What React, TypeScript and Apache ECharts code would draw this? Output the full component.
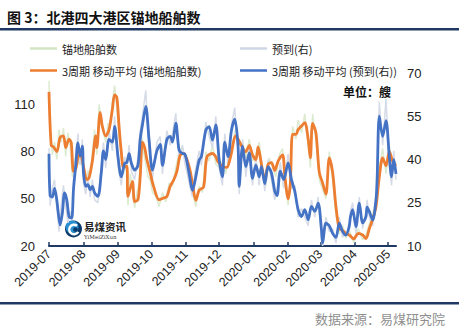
import React, { useEffect, useRef } from "react";
import * as echarts from "echarts";

// 3周期 移动平均 (锚地船舶数) — left axis
const anchorMA: [string, number][] = [
  ["2019-07-01", 118], ["2019-07-03", 84], ["2019-07-05", 83], ["2019-07-08", 80], ["2019-07-11", 89],
  ["2019-07-14", 90], ["2019-07-16", 82.5], ["2019-07-19", 88], ["2019-07-21", 85.7], ["2019-07-23", 67.5],
  ["2019-07-25", 69], ["2019-07-27", 76], ["2019-07-29", 79.3], ["2019-08-01", 70.7], ["2019-08-04", 62.2],
  ["2019-08-06", 63.3], ["2019-08-09", 74], ["2019-08-12", 90], ["2019-08-13", 82.5], ["2019-08-16", 105],
  ["2019-08-18", 96], ["2019-08-21", 90], ["2019-08-24", 94], ["2019-08-27", 107], ["2019-08-29", 116],
  ["2019-08-31", 114.5], ["2019-09-02", 96], ["2019-09-04", 80], ["2019-09-06", 70], ["2019-09-09", 70.7],
  ["2019-09-10", 51.5], ["2019-09-14", 61], ["2019-09-16", 48.3], ["2019-09-19", 49.4], ["2019-09-21", 64],
  ["2019-09-23", 86], ["2019-09-25", 82.5], ["2019-09-27", 75], ["2019-09-30", 66.5], ["2019-10-03", 58],
  ["2019-10-08", 49.4], ["2019-10-12", 50.5], ["2019-10-15", 51.5], ["2019-10-18", 58], ["2019-10-21", 61.8],
  ["2019-10-24", 67.5], ["2019-10-27", 77.8], ["2019-10-30", 78.8], ["2019-11-04", 70.5], ["2019-11-07", 59.7],
  ["2019-11-10", 49], ["2019-11-13", 55.4], ["2019-11-17", 57.5], ["2019-11-20", 76.7], ["2019-11-25", 78.8],
  ["2019-11-28", 76.7], ["2019-11-30", 73.5], ["2019-12-05", 70.3], ["2019-12-08", 70], ["2019-12-11", 76],
  ["2019-12-16", 90], ["2019-12-18", 88], ["2019-12-22", 82.5], ["2019-12-25", 80], ["2019-12-28", 84],
  ["2019-12-31", 78], ["2020-01-03", 75], ["2020-01-05", 83], ["2020-01-08", 72], ["2020-01-11", 62],
  ["2020-01-14", 72], ["2020-01-17", 73], ["2020-01-20", 68], ["2020-01-23", 74], ["2020-01-27", 78],
  ["2020-01-29", 65], ["2020-02-01", 50], ["2020-02-03", 60], ["2020-02-05", 91], ["2020-02-08", 91],
  ["2020-02-10", 94], ["2020-02-13", 96.3], ["2020-02-16", 98.5], ["2020-02-19", 88], ["2020-02-21", 76],
  ["2020-02-23", 98], ["2020-02-26", 92], ["2020-02-29", 67], ["2020-03-03", 60], ["2020-03-06", 53],
  ["2020-03-09", 76], ["2020-03-12", 67], ["2020-03-15", 45], ["2020-03-18", 31], ["2020-03-21", 30],
  ["2020-03-24", 28], ["2020-03-27", 27], ["2020-03-31", 24.5], ["2020-04-04", 28], ["2020-04-08", 27],
  ["2020-04-11", 24.7], ["2020-04-14", 31], ["2020-04-17", 37], ["2020-04-20", 45], ["2020-04-23", 64],
  ["2020-04-26", 76], ["2020-04-29", 71], ["2020-05-02", 80], ["2020-05-05", 74], ["2020-05-08", 71],
];

// 3周期 移动平均 (预到(右)) — right axis
const arrivalMA: [string, number][] = [
  ["2019-07-01", 42], ["2019-07-02", 27.5], ["2019-07-04", 27], ["2019-07-06", 30], ["2019-07-08", 26],
  ["2019-07-09", 22.6], ["2019-07-11", 17.3], ["2019-07-13", 21.4], ["2019-07-15", 28.4], ["2019-07-17", 26],
  ["2019-07-19", 20.2], ["2019-07-21", 19.7], ["2019-07-22", 21], ["2019-07-23", 29.5], ["2019-07-25", 37.7],
  ["2019-07-27", 45.8], ["2019-07-29", 41.2], ["2019-07-31", 44.6], ["2019-08-01", 35.4], ["2019-08-03", 30.7],
  ["2019-08-05", 31.3], ["2019-08-07", 29.5], ["2019-08-09", 30.7], ["2019-08-11", 28.4], ["2019-08-14", 27.2],
  ["2019-08-17", 35.4], ["2019-08-19", 43], ["2019-08-21", 40], ["2019-08-24", 47], ["2019-08-27", 46],
  ["2019-08-29", 51.5], ["2019-09-01", 41], ["2019-09-04", 34], ["2019-09-07", 38.6], ["2019-09-09", 39],
  ["2019-09-11", 42], ["2019-09-13", 38.8], ["2019-09-16", 36.3], ["2019-09-19", 38], ["2019-09-21", 47],
  ["2019-09-23", 52], ["2019-09-26", 58.4], ["2019-09-29", 46.7], ["2019-10-02", 36.3], ["2019-10-06", 43],
  ["2019-10-09", 45.2], ["2019-10-11", 38], ["2019-10-15", 47], ["2019-10-18", 48], ["2019-10-20", 46],
  ["2019-10-23", 52.6], ["2019-10-26", 43.2], ["2019-10-29", 42.1], ["2019-10-31", 42], ["2019-11-04", 35.1],
  ["2019-11-07", 29.3], ["2019-11-09", 32], ["2019-11-13", 39.8], ["2019-11-15", 41], ["2019-11-19", 50.2],
  ["2019-11-22", 51.4], ["2019-11-25", 46.7], ["2019-11-28", 52], ["2019-12-01", 40], ["2019-12-04", 34],
  ["2019-12-06", 46], ["2019-12-09", 41], ["2019-12-12", 50], ["2019-12-15", 54], ["2019-12-18", 44.6],
  ["2019-12-19", 30.7], ["2019-12-22", 44.6], ["2019-12-25", 37.5], ["2019-12-28", 42.3], ["2019-12-31", 33.5],
  ["2020-01-03", 38], ["2020-01-06", 34], ["2020-01-08", 37.5], ["2020-01-11", 31.6], ["2020-01-14", 37.5],
  ["2020-01-17", 35.4], ["2020-01-20", 29], ["2020-01-22", 27.5], ["2020-01-25", 36], ["2020-01-28", 33],
  ["2020-02-01", 38.8], ["2020-02-04", 33], ["2020-02-07", 29], ["2020-02-10", 22.6], ["2020-02-13", 20.2],
  ["2020-02-16", 22.6], ["2020-02-19", 19.1], ["2020-02-22", 23.7], ["2020-02-25", 22], ["2020-02-28", 24.9],
  ["2020-03-02", 15.6], ["2020-03-03", 11], ["2020-03-06", 17.9], ["2020-03-09", 17], ["2020-03-12", 14.4],
  ["2020-03-15", 13], ["2020-03-18", 17.9], ["2020-03-21", 15], ["2020-03-24", 13.8], ["2020-03-27", 17],
  ["2020-03-28", 20], ["2020-03-30", 22.6], ["2020-04-02", 16.7], ["2020-04-05", 24.9], ["2020-04-08", 18],
  ["2020-04-11", 20.2], ["2020-04-12", 23.5], ["2020-04-14", 22], ["2020-04-17", 19], ["2020-04-20", 26],
  ["2020-04-21", 32.8], ["2020-04-23", 55], ["2020-04-26", 48], ["2020-04-29", 53.5], ["2020-05-02", 41],
  ["2020-05-04", 34], ["2020-05-06", 40], ["2020-05-08", 35],
];

// 锚地船舶数 (daily, left axis)
const anchorRaw: [string, number][] = [
  ["2019-07-01", 125], ["2019-07-02", 95], ["2019-07-04", 78], ["2019-07-06", 86], ["2019-07-08", 75],
  ["2019-07-10", 94], ["2019-07-12", 86], ["2019-07-14", 95], ["2019-07-16", 77], ["2019-07-18", 92],
  ["2019-07-20", 83], ["2019-07-22", 64], ["2019-07-24", 74], ["2019-07-26", 80], ["2019-07-28", 72],
  ["2019-07-30", 76], ["2019-08-01", 66], ["2019-08-03", 58], ["2019-08-05", 68], ["2019-08-07", 64],
  ["2019-08-09", 80], ["2019-08-11", 94], ["2019-08-13", 78], ["2019-08-15", 110], ["2019-08-17", 100],
  ["2019-08-19", 92], ["2019-08-21", 86], ["2019-08-23", 98], ["2019-08-25", 96], ["2019-08-27", 112],
  ["2019-08-29", 122], ["2019-08-31", 108], ["2019-09-02", 90], ["2019-09-04", 76], ["2019-09-06", 66],
  ["2019-09-08", 76], ["2019-09-10", 46], ["2019-09-12", 66], ["2019-09-14", 56], ["2019-09-16", 44],
  ["2019-09-18", 54], ["2019-09-20", 60], ["2019-09-22", 92], ["2019-09-24", 80], ["2019-09-26", 72],
  ["2019-09-28", 64], ["2019-09-30", 62], ["2019-10-02", 54], ["2019-10-05", 52], ["2019-10-08", 45],
  ["2019-10-11", 54], ["2019-10-14", 48], ["2019-10-17", 60], ["2019-10-20", 58], ["2019-10-23", 70],
  ["2019-10-26", 80], ["2019-10-29", 83], ["2019-11-01", 74], ["2019-11-04", 66], ["2019-11-07", 54],
  ["2019-11-10", 45], ["2019-11-13", 58], ["2019-11-16", 54], ["2019-11-19", 80], ["2019-11-22", 74],
  ["2019-11-25", 84], ["2019-11-28", 72], ["2019-12-01", 70], ["2019-12-04", 74], ["2019-12-07", 66],
  ["2019-12-10", 80], ["2019-12-13", 86], ["2019-12-16", 95], ["2019-12-19", 84], ["2019-12-22", 86],
  ["2019-12-25", 76], ["2019-12-28", 88], ["2019-12-31", 74], ["2020-01-03", 78], ["2020-01-06", 86],
  ["2020-01-09", 68], ["2020-01-12", 58], ["2020-01-15", 76], ["2020-01-18", 70], ["2020-01-21", 64],
  ["2020-01-24", 78], ["2020-01-27", 82], ["2020-01-30", 58], ["2020-02-01", 46], ["2020-02-03", 64],
  ["2020-02-05", 96], ["2020-02-08", 88], ["2020-02-10", 100], ["2020-02-13", 92], ["2020-02-16", 104],
  ["2020-02-19", 84], ["2020-02-21", 70], ["2020-02-23", 104], ["2020-02-26", 88], ["2020-02-29", 62],
  ["2020-03-03", 56], ["2020-03-06", 50], ["2020-03-09", 80], ["2020-03-12", 62], ["2020-03-15", 40],
  ["2020-03-18", 28], ["2020-03-21", 33], ["2020-03-24", 25], ["2020-03-27", 30], ["2020-03-31", 22],
  ["2020-04-04", 31], ["2020-04-08", 24], ["2020-04-11", 27], ["2020-04-14", 34], ["2020-04-17", 40],
  ["2020-04-20", 50], ["2020-04-23", 70], ["2020-04-26", 82], ["2020-04-29", 66], ["2020-05-02", 84],
  ["2020-05-05", 70], ["2020-05-08", 73],
];

// 预到(右) (daily, right axis)
const arrivalRaw: [string, number][] = [
  ["2019-07-01", 44], ["2019-07-02", 24], ["2019-07-04", 30], ["2019-07-06", 33], ["2019-07-08", 23],
  ["2019-07-09", 20], ["2019-07-10", 15], ["2019-07-12", 24], ["2019-07-14", 31], ["2019-07-16", 24],
  ["2019-07-18", 18], ["2019-07-20", 22], ["2019-07-22", 19], ["2019-07-23", 33], ["2019-07-25", 40],
  ["2019-07-27", 49], ["2019-07-29", 38], ["2019-07-31", 47], ["2019-08-01", 32], ["2019-08-03", 28],
  ["2019-08-05", 34], ["2019-08-07", 27], ["2019-08-09", 33], ["2019-08-11", 26], ["2019-08-14", 25],
  ["2019-08-17", 38], ["2019-08-19", 46], ["2019-08-21", 37], ["2019-08-24", 50], ["2019-08-27", 43],
  ["2019-08-29", 55], ["2019-09-01", 38], ["2019-09-04", 31], ["2019-09-07", 41], ["2019-09-09", 36],
  ["2019-09-11", 45], ["2019-09-13", 36], ["2019-09-16", 33], ["2019-09-19", 41], ["2019-09-21", 50],
  ["2019-09-23", 55], ["2019-09-26", 64], ["2019-09-29", 43], ["2019-10-02", 33], ["2019-10-06", 46],
  ["2019-10-09", 48], ["2019-10-11", 35], ["2019-10-15", 50], ["2019-10-18", 45], ["2019-10-20", 49],
  ["2019-10-23", 56], ["2019-10-26", 40], ["2019-10-29", 45], ["2019-10-31", 39], ["2019-11-04", 32],
  ["2019-11-07", 27], ["2019-11-09", 35], ["2019-11-13", 43], ["2019-11-15", 38], ["2019-11-19", 53],
  ["2019-11-22", 48], ["2019-11-25", 44], ["2019-11-28", 55], ["2019-12-01", 37], ["2019-12-04", 31],
  ["2019-12-06", 49], ["2019-12-09", 38], ["2019-12-12", 52], ["2019-12-15", 58], ["2019-12-18", 42],
  ["2019-12-19", 28], ["2019-12-22", 47], ["2019-12-25", 34], ["2019-12-28", 45], ["2019-12-31", 31],
  ["2020-01-03", 41], ["2020-01-06", 31], ["2020-01-08", 40], ["2020-01-11", 29], ["2020-01-14", 40],
  ["2020-01-17", 33], ["2020-01-20", 26], ["2020-01-22", 30], ["2020-01-25", 39], ["2020-01-28", 30],
  ["2020-02-01", 42], ["2020-02-04", 30], ["2020-02-07", 31], ["2020-02-10", 20], ["2020-02-13", 23],
  ["2020-02-16", 20], ["2020-02-19", 17], ["2020-02-22", 26], ["2020-02-25", 20], ["2020-02-28", 27],
  ["2020-03-02", 13], ["2020-03-03", 10], ["2020-03-06", 20], ["2020-03-09", 15], ["2020-03-12", 16],
  ["2020-03-15", 11], ["2020-03-18", 20], ["2020-03-21", 13], ["2020-03-24", 15], ["2020-03-27", 15],
  ["2020-03-28", 22], ["2020-03-30", 25], ["2020-04-02", 14], ["2020-04-05", 27], ["2020-04-08", 16],
  ["2020-04-11", 22], ["2020-04-12", 26], ["2020-04-14", 20], ["2020-04-17", 17], ["2020-04-20", 28],
  ["2020-04-21", 35], ["2020-04-23", 60], ["2020-04-26", 45], ["2020-04-29", 61], ["2020-05-02", 38],
  ["2020-05-04", 31], ["2020-05-06", 43], ["2020-05-08", 33],
];

const seriesNames = ["锚地船舶数", "预到(右)", "3周期 移动平均 (锚地船舶数)", "3周期 移动平均 (预到(右))"];
const leftTicks = [20, 50, 80, 110];
const rightTicks = [10, 25, 40, 55, 70];
const titleText = "图 3：北港四大港区锚地船舶数";
const sourceText = "数据来源：易煤研究院";
const unitText = "单位：艘";

const FONT = "'Liberation Sans', 'Noto Sans CJK SC', sans-serif";
const CJK = "'Noto Sans CJK SC', 'Liberation Sans', sans-serif";
const DAY = 86400000;
const NAVY = "#1f3864";

export default function App() {
  const ref = useRef<HTMLDivElement>(null);
  useEffect(() => {
    if (!ref.current) return;
    const chart = echarts.init(ref.current, null, { renderer: "svg" });
    const legendBase = {
      itemWidth: 27,
      itemHeight: 2.5,
      icon: "rect",
      selectedMode: false,
      textStyle: { fontSize: 11, color: "#222", fontFamily: CJK },
      padding: 0,
    };
    chart.setOption({
      animation: false,
      backgroundColor: "#ffffff",
      textStyle: { fontFamily: FONT },
      grid: { left: 49, right: 63, top: 73, bottom: 83 },
      legend: [
        { ...legendBase, data: [seriesNames[0]], left: 30, top: 43 },
        { ...legendBase, data: [seriesNames[1]], left: 240, top: 43 },
        { ...legendBase, data: [seriesNames[2]], left: 30, top: 65 },
        { ...legendBase, data: [seriesNames[3]], left: 240, top: 65 },
      ],
      xAxis: {
        type: "time",
        min: "2019-07-01",
        max: "2020-05-08",
        minInterval: 28 * DAY,
        maxInterval: 31 * DAY,
        splitNumber: 11,
        axisLine: { lineStyle: { color: NAVY, width: 2 } },
        axisTick: { show: true, inside: true, length: 4, lineStyle: { color: NAVY, width: 1.5 } },
        splitLine: { show: false },
        axisLabel: {
          rotate: 45,
          fontSize: 12.5,
          color: "#222",
          margin: 6,
          fontFamily: FONT,
          showMaxLabel: false,
          formatter: (v: number) => {
            const d = new Date(v);
            if (d.getDate() !== 1) return "";
            return `${d.getFullYear()}-${String(d.getMonth() + 1).padStart(2, "0")}`;
          },
        },
      },
      yAxis: [
        {
          type: "value",
          min: 20,
          max: 130,
          interval: 10,
          position: "left",
          axisLine: { show: false },
          axisTick: { show: false },
          splitLine: { show: false },
          axisLabel: {
            fontSize: 13,
            color: "#222",
            margin: 14,
            fontFamily: FONT,
            formatter: (v: number) => (leftTicks.includes(Math.round(v)) ? String(Math.round(v)) : ""),
          },
        },
        {
          type: "value",
          min: 10,
          max: 70,
          interval: 5,
          position: "right",
          axisLine: { show: false },
          axisTick: { show: false },
          splitLine: { show: false },
          axisLabel: {
            fontSize: 13,
            color: "#222",
            margin: 11,
            fontFamily: FONT,
            formatter: (v: number) => (rightTicks.includes(Math.round(v)) ? String(Math.round(v)) : ""),
          },
        },
      ],
      series: [
        {
          name: seriesNames[0],
          type: "line",
          yAxisIndex: 0,
          data: anchorRaw,
          symbol: "none",
          lineStyle: { color: "#dcebd0", width: 1.5 },
          itemStyle: { color: "#d3e6c4" },
        },
        {
          name: seriesNames[1],
          type: "line",
          yAxisIndex: 1,
          data: arrivalRaw,
          symbol: "none",
          lineStyle: { color: "#d5dbe7", width: 1.5 },
          itemStyle: { color: "#cfd6e4" },
        },
        {
          name: seriesNames[2],
          type: "line",
          yAxisIndex: 0,
          data: anchorMA,
          symbol: "none",
          smooth: 0.3,
          lineStyle: { color: "#ed7d31", width: 2.8 },
          itemStyle: { color: "#ed7d31" },
        },
        {
          name: seriesNames[3],
          type: "line",
          yAxisIndex: 1,
          data: arrivalMA,
          symbol: "none",
          smooth: 0.3,
          lineStyle: { color: "#4472c4", width: 2.8 },
          itemStyle: { color: "#4472c4" },
        },
      ],
      graphic: [
        {
          type: "text",
          x: 7,
          y: 17,
          style: { text: titleText, font: `bold 14px ${CJK}`, fill: "#111", textAlign: "left", textVerticalAlign: "middle" },
        },
        { type: "rect", shape: { x: 0, y: 28, width: 459, height: 2.5 }, style: { fill: NAVY } },
        { type: "rect", shape: { x: 0, y: 302, width: 459, height: 2.5 }, style: { fill: NAVY } },
        {
          type: "text",
          x: 445,
          y: 318,
          style: { text: sourceText, font: `13px ${CJK}`, fill: "#8f8f8f", textAlign: "right", textVerticalAlign: "middle" },
        },
        {
          type: "text",
          x: 343,
          y: 91,
          style: { text: unitText, font: `bold 12px ${CJK}`, fill: "#111", textAlign: "left", textVerticalAlign: "middle" },
        },
        // logo
        { type: "circle", shape: { cx: 73.5, cy: 229, r: 8.5 }, style: { fill: "#0c3a6b" } },
        { type: "circle", shape: { cx: 72, cy: 227, r: 6.5 }, style: { fill: "#2a8fd0" } },
        {
          type: "arc",
          shape: { cx: 74, cy: 229.5, r: 4.8, startAngle: 0.5, endAngle: 5.4 },
          style: { stroke: "#ffffff", lineWidth: 2.4, fill: "none" },
        },
        { type: "circle", shape: { cx: 75.5, cy: 229.5, r: 2.3 }, style: { fill: "#0c3a6b" } },
        {
          type: "text",
          x: 84,
          y: 226.5,
          style: { text: "易煤资讯", font: `bold 10.5px ${CJK}`, fill: "#222", textAlign: "left", textVerticalAlign: "middle" },
        },
        {
          type: "text",
          x: 84,
          y: 237,
          style: { text: "YiMeiZiXun", font: `5.5px 'DejaVu Serif', serif`, fill: "#333", textAlign: "left", textVerticalAlign: "middle" },
        },
      ],
    });
    return () => chart.dispose();
  }, []);
  return (
    <div
      ref={ref}
      style={{ position: "fixed", left: 0, top: 0, width: 459, height: 329, background: "#fff" }}
    />
  );
}
